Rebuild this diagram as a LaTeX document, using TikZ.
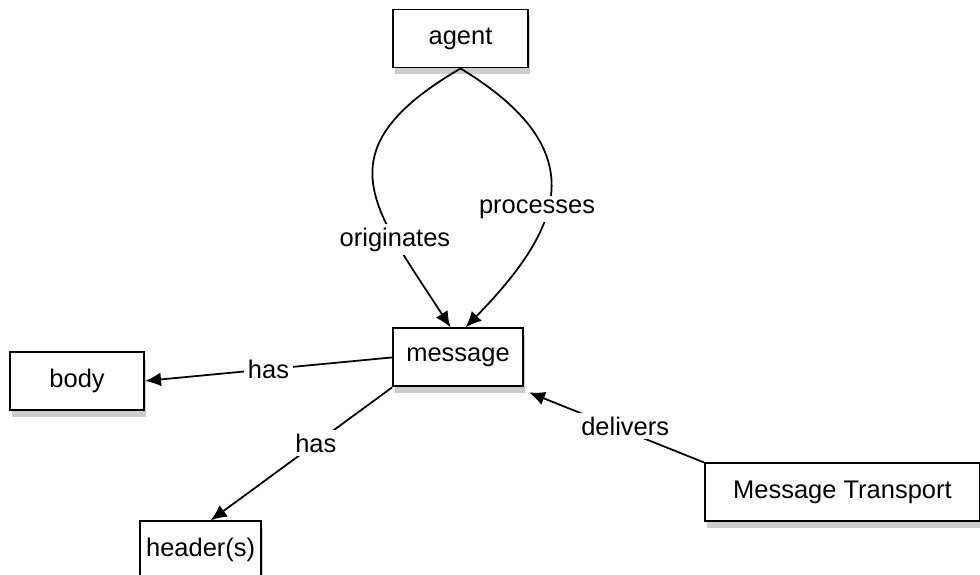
\documentclass[tikz,border=0pt]{standalone}
\usepackage{fontspec}
\setmainfont{Liberation Sans}
\usetikzlibrary{positioning,arrows.meta,calc,shadows}

\begin{document}
\begin{tikzpicture}[
      >={Latex[length=3.2mm,width=2.8mm]}
    ]

    \tikzstyle{box} = [rectangle, minimum height=1.16cm, text centered, draw=black, line width=1.1pt, fill=white, drop shadow={opacity=0.4, shadow xshift=0.4mm, shadow yshift=-1.4mm}, font=\fontsize{14.5}{17}\selectfont]

    \tikzstyle{arrow} = [line width=1pt, ->]

    \tikzstyle{edgetext} = [fill=white, inner sep=2pt, font=\fontsize{14.5}{17}\selectfont]

    \useasboundingbox (0,0) rectangle (19.6,-11.5);

    \node [box, minimum width=2.7cm] (agent) at (9.21,-0.77) {agent};

    \node [box, minimum width=2.6cm] (message) [below=5.18cm of agent, xshift=-0.05cm] {message};

    \node [box, minimum width=2.68cm] (body) [left=4.94cm of message, yshift=-0.47cm] {body};
    \node [box, minimum width=2.3cm] (header) [below left=2.66cm and 2.6cm of message] {header(s)};
    \node [box, minimum width=5.5cm] (transport) [below right=1.5cm and 3.6cm of message] {Message Transport};

    \draw [arrow] (agent.south) .. controls ($(agent.south)+(-2.8,-1.64)$) and ($(message.north)+(-1.7,2.4)$) .. node[edgetext, pos=0.72] {originates} ([xshift=-1.5mm]message.north);
    \draw [arrow] (agent.south) .. controls ($(agent.south)+(2.7,-1.64)$) and ($(message.north)+(2.1,2.0)$) .. node[edgetext, pos=0.57, xshift=-2mm] {processes} ([xshift=1.5mm]message.north);

    \draw [arrow] (message.west) -- node[edgetext] {has} (body.east);
    \draw [arrow] (message.south west) -- node[edgetext, pos=0.42] {has} ([xshift=2mm]header.north);

    \draw [arrow] (transport.north west) -- node[edgetext, pos=0.45, yshift=1mm] {delivers} ([xshift=1mm,yshift=-1mm]message.south east);

\end{tikzpicture}
\end{document}
